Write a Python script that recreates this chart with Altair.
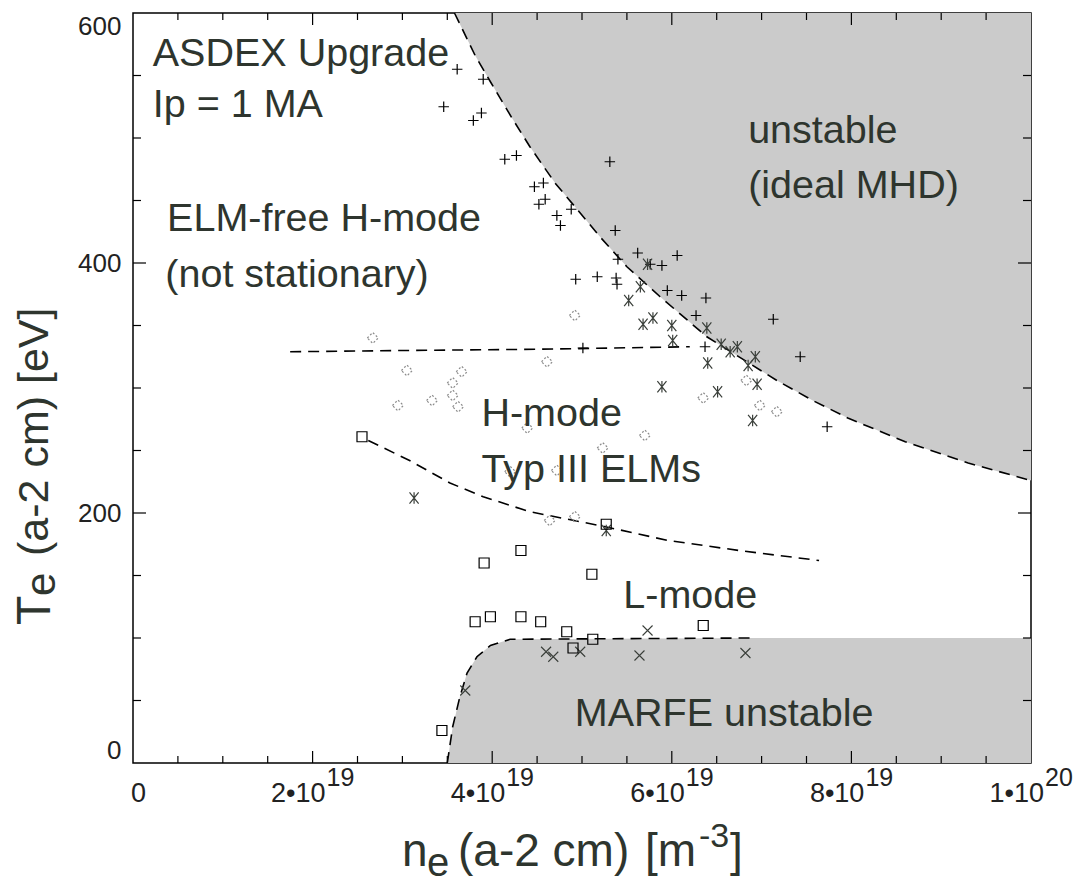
import altair as alt
import pandas as pd

# Electron density at a-2 cm in units of 1e19 m^-3, electron temperature in eV.

# ELM-free H-mode phases (+)
plus_ne = [3.61, 3.90, 3.46, 3.79, 3.88, 4.14, 4.27, 4.47, 4.57, 4.52, 4.59, 4.72,
           4.76, 4.88, 5.31, 5.37, 4.93, 5.17, 5.38, 5.39, 5.40, 5.62, 6.06, 5.89,
           5.76, 6.11, 6.38, 5.95, 6.27, 7.13, 6.37, 7.43, 7.73, 5.01]
plus_te = [555, 547, 525, 514, 520, 483, 486, 461, 464, 447, 451, 438,
           430, 443, 481, 426, 387, 389, 388, 383, 403, 408, 406, 398,
           399, 374, 372, 378, 358, 355, 333, 325, 269, 332]

# H-mode with large ELMs (asterisks)
star_ne = [5.52, 5.65, 5.68, 5.79, 6.00, 6.01, 6.39, 6.40, 5.89, 6.51, 6.90, 6.65,
           6.73, 6.93, 6.95, 5.73, 6.55, 6.85, 3.13, 5.27]
star_te = [370, 381, 351, 356, 350, 338, 348, 320, 301, 297, 274, 329,
           333, 325, 303, 399, 335, 318, 212, 186]

# H-mode with type III ELMs (diamonds)
diam_ne = [4.92, 3.05, 3.66, 3.56, 3.56, 3.62, 3.33, 2.95, 4.61, 4.39, 4.20, 4.72,
           4.64, 4.92, 2.67, 5.70, 5.23, 6.35, 6.98, 7.17, 6.83]
diam_te = [358, 314, 313, 304, 294, 285, 290, 286, 321, 268, 233, 234,
           194, 197, 340, 262, 252, 292, 286, 281, 306]

# L-mode (squares)
sq_ne = [2.55, 5.27, 3.91, 4.32, 5.11, 3.81, 3.98, 4.32, 4.54, 4.83, 5.12, 4.90, 6.35, 3.44]
sq_te = [261, 191, 160, 170, 151, 113, 117, 117, 113, 105, 99, 92, 110, 26]

# MARFE phases (x)
x_ne = [5.73, 5.64, 4.68, 4.60, 6.82, 3.70, 4.98]
x_te = [106, 86, 85, 89, 88, 58, 89]

# Ideal MHD stability limit
mhd_ne = [3.58, 3.81, 3.98, 4.22, 4.42, 4.70, 4.98, 5.20, 5.50, 5.87, 6.39, 6.68,
          7.17, 7.57, 7.96, 8.60, 9.30, 10.0]
mhd_te = [600, 566, 545, 516, 493, 464, 440, 421, 397, 373, 341, 328,
          306, 290, 276, 257, 240, 226]

# MARFE stability limit
marfe_ne = [3.50, 3.56, 3.64, 3.72, 3.83, 3.98, 4.20, 6.90, 10.0]
marfe_te = [0, 29, 53, 72, 85, 94, 99, 100, 100]
marfe_dash_end = 6.9

# ELM-free / type III boundary
elmfree_ne = [1.75, 3.00, 4.50, 6.20]
elmfree_te = [329, 330, 331, 333]

# type III H-mode / L-mode boundary
lh_ne = [2.62, 3.08, 3.53, 3.90, 4.42, 5.26, 5.96, 6.75, 7.64]
lh_te = [258, 242, 224, 213, 201, 189, 178, 170, 162]

# region names and where they are written (left end of the baseline)
region_text = ["ASDEX Upgrade", "Ip = 1 MA", "ELM-free H-mode", "(not stationary)",
               "unstable", "(ideal MHD)", "H-mode", "Typ III ELMs", "L-mode",
               "MARFE unstable"]
region_ne = [0.22, 0.22, 0.38, 0.36, 6.85, 6.85, 3.88, 3.88, 5.46, 4.92]
region_te = [558, 517, 426, 381, 496, 452, 270, 225, 124, 30]

# axis ticks and labels
x_label_pos = [0, 2, 4, 6, 8, 10]
x_label_base = ["0", "2•10", "4•10", "6•10", "8•10", "1•10"]
x_label_exp = ["", "19", "19", "19", "19", "20"]
x_minor = [0.5, 1, 1.5, 2.5, 3, 3.5, 4.5, 5, 5.5, 6.5, 7, 7.5, 8.5, 9, 9.5]
x_major = [2, 4, 6, 8]
y_minor = [50, 100, 150, 250, 300, 350, 450, 500, 550]
y_major = [200, 400]
y_labels = [0, 200, 400, 600]

TE_MIN, TE_MAX = 0, 600
NE_MIN, NE_MAX = 0, 10

W, H = 898, 750
FONT = "Liberation Sans"
TXT = "#2e352e"
SHADE = "#cbcbcb"

xs = alt.Scale(domain=[NE_MIN, NE_MAX], nice=False, zero=False)
ys = alt.Scale(domain=[TE_MIN, TE_MAX], nice=False, zero=False)
yax = alt.Axis(values=y_labels, ticks=False, tickSize=0, domain=False, grid=False,
               labelFlush=True, labelPadding=12, labelFontSize=26, labelFont=FONT,
               labelColor="#222222", title=None)


def X(f):
    return alt.X(f, type="quantitative", scale=xs, axis=None)


def Y(f):
    return alt.Y(f, type="quantitative", scale=ys, axis=yax, stack=None)


def df(**cols):
    return pd.DataFrame(cols)


mhd = df(ne=mhd_ne, te=mhd_te, i=range(len(mhd_ne)))
mhd["edge"] = TE_MAX
marfe = df(ne=marfe_ne, te=marfe_te, i=range(len(marfe_ne)))
marfe["edge"] = TE_MIN
marfe_line = marfe[marfe["ne"] <= marfe_dash_end]

layers = []

# shaded unstable regions: MHD region up to the top edge, MARFE region down to zero
for d in [mhd, marfe]:
    layers.append(alt.Chart(d).mark_area(color=SHADE, opacity=1).encode(
        x=X("ne"), y=Y("te"), y2=alt.Y2("edge:Q")))

# dashed boundaries
dash = dict(color="black", strokeWidth=1.6, strokeDash=[11, 7])
for d in [mhd, marfe_line,
          df(ne=elmfree_ne, te=elmfree_te, i=range(len(elmfree_ne))),
          df(ne=lh_ne, te=lh_te, i=range(len(lh_ne)))]:
    layers.append(alt.Chart(d).mark_line(**dash).encode(
        x=X("ne"), y=Y("te"), order="i:Q"))

# data points
PLUS = "M-1,0L1,0M0,-1L0,1"
STAR = "M-0.8,-1L0.8,1M-0.8,1L0.8,-1M0,-1L0,1"
CROSS = "M-1,-1L1,1M-1,1L1,-1"
layers.append(alt.Chart(df(ne=diam_ne, te=diam_te)).mark_point(
    shape="diamond", filled=False, stroke="#8a8a8a", strokeWidth=1.2,
    strokeDash=[2, 2], size=120, opacity=1).encode(x=X("ne"), y=Y("te")))
layers.append(alt.Chart(df(ne=plus_ne, te=plus_te)).mark_point(
    shape=PLUS, filled=False, stroke="black", strokeWidth=1.2, size=110,
    opacity=1).encode(x=X("ne"), y=Y("te")))
layers.append(alt.Chart(df(ne=star_ne, te=star_te)).mark_point(
    shape=STAR, filled=False, stroke="#3a3f3a", strokeWidth=1.2, size=130,
    opacity=1).encode(x=X("ne"), y=Y("te")))
layers.append(alt.Chart(df(ne=x_ne, te=x_te)).mark_point(
    shape=CROSS, filled=False, stroke="#3a3f3a", strokeWidth=1.1, size=100,
    opacity=1).encode(x=X("ne"), y=Y("te")))
layers.append(alt.Chart(df(ne=sq_ne, te=sq_te)).mark_point(
    shape="square", filled=False, stroke="black", strokeWidth=1.2, size=100,
    opacity=1).encode(x=X("ne"), y=Y("te")))

# region labels
layers.append(alt.Chart(df(t=region_text, ne=region_ne, te=region_te)).mark_text(
    align="left", baseline="alphabetic", font=FONT, fontSize=39.5,
    color=TXT).encode(x=X("ne"), y=Y("te"), text="t:N"))

# inward ticks on all four sides
for vals, ln in [(x_minor, 7), (x_major, 12)]:
    d = df(ne=vals)
    layers.append(alt.Chart(d).mark_rule(color="black", strokeWidth=1.2).encode(
        x=X("ne"), y=alt.value(H), y2=alt.value(H - ln)))
    layers.append(alt.Chart(d).mark_rule(color="black", strokeWidth=1.2).encode(
        x=X("ne"), y=alt.value(0), y2=alt.value(ln)))
for vals, ln in [(y_minor, 8), (y_major, 13)]:
    d = df(te=vals)
    layers.append(alt.Chart(d).mark_rule(color="black", strokeWidth=1.2).encode(
        y=Y("te"), x=alt.value(0), x2=alt.value(ln)))
    layers.append(alt.Chart(d).mark_rule(color="black", strokeWidth=1.2).encode(
        y=Y("te"), x=alt.value(W), x2=alt.value(W - ln)))

# x tick labels with exponents
xl = df(ne=x_label_pos, base=x_label_base, sup=x_label_exp)
layers.append(alt.Chart(xl).mark_text(
    align="right", baseline="alphabetic", dx=13, fontSize=27, font=FONT,
    color="#222222").encode(x=X("ne"), y=alt.value(H + 39), text="base:N"))
layers.append(alt.Chart(xl).mark_text(
    align="left", baseline="alphabetic", dx=14, fontSize=25, font=FONT,
    color="#222222").encode(x=X("ne"), y=alt.value(H + 23), text="sup:N"))


# axis titles built from pieces (sub- and superscripts)
def piece(t, px, py, size, angle=0):
    kw = dict(align="left", baseline="alphabetic", font=FONT, fontSize=size,
              color=TXT)
    if angle:
        kw["angle"] = angle
    return alt.Chart(df(t=[t])).mark_text(**kw).encode(
        x=alt.value(px), y=alt.value(py), text="t:N")


layers += [
    piece("n", 269, 853, 46),
    piece("e", 294, 863, 40),
    piece("(a-2 cm)", 325, 853, 46),
    piece("[m", 512, 853, 46),
    piece("-3", 566, 834, 34),
    piece("]", 597, 853, 46),
    piece("T", -83, 612, 48, 270),
    piece("e", -78, 583, 42, 270),
    piece("(a-2 cm) [eV]", -85, 543, 43, 270),
]

chart = alt.layer(*layers).properties(
    width=W, height=H,
    padding={"left": 133, "top": 13, "right": 61, "bottom": 120},
    autosize=alt.AutoSizeParams(type="none"),
    background="white",
).configure_view(stroke="black", strokeWidth=1.5)

chart.save("out.html", embed_options={"renderer": "svg", "actions": False})
